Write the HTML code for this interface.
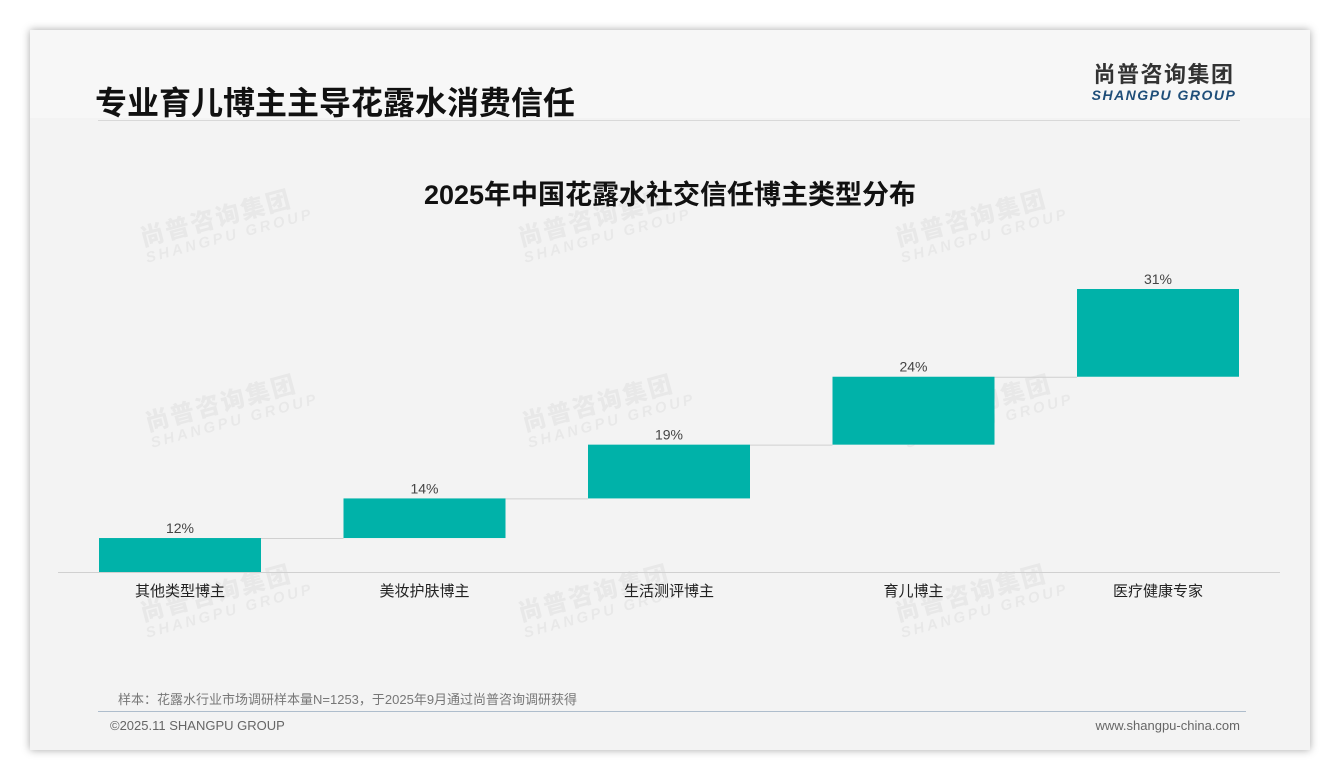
<!DOCTYPE html>
<html><head><meta charset="utf-8"><style>
body{margin:0;width:1340px;height:780px;background:#fff;font-family:"Liberation Sans","Noto Sans CJK SC",sans-serif;position:relative;overflow:hidden}
.card{position:absolute;left:30px;top:30px;width:1280px;height:720px;background:#f3f3f3;box-shadow:0 0 8px rgba(0,0,0,.35)}
.hdr{position:absolute;left:0;top:0;width:1280px;height:88px;background:#f7f7f7}
.wm{position:absolute;color:rgba(0,0,0,.045);font-weight:bold;transform:rotate(-15deg);line-height:1;white-space:nowrap}
.wm b{display:block;font-size:24px;letter-spacing:2px}.wm i{display:block;font-size:15px;font-style:italic;letter-spacing:3px}
</style></head><body>
<div class="card">
<div class="hdr"></div>
</div>
<div style="position:absolute;left:95px;top:78px;font-size:32px;font-weight:bold;color:#111">专业育儿博主主导花露水消费信任</div>
<div style="position:absolute;left:1086px;top:63px;width:156px;text-align:center">
<div style="font-size:22px;font-weight:bold;color:#333;letter-spacing:1.5px;line-height:24px">尚普咨询集团</div>
<div style="font-size:14px;font-weight:bold;font-style:italic;color:#1f4e79;letter-spacing:1.5px;line-height:16px">SHANGPU GROUP</div></div>
<div style="position:absolute;left:98px;top:120px;width:1142px;height:1px;background:#d8d8d8"></div>
<div style="position:absolute;left:0;width:1340px;top:173px;text-align:center;font-size:27px;font-weight:bold;color:#111">2025年中国花露水社交信任博主类型分布</div>
<div id="wms"></div>
<svg id="chart" width="1340" height="780" style="position:absolute;left:0;top:0"></svg>
<div style="position:absolute;left:118px;top:689px;font-size:13px;color:#777">样本：花露水行业市场调研样本量N=1253，于2025年9月通过尚普咨询调研获得</div>
<div style="position:absolute;left:98px;top:711px;width:1148px;height:1px;background:#aebdcc"></div>
<div style="position:absolute;left:110px;top:718px;font-size:13px;color:#666">©2025.11 SHANGPU GROUP</div>
<div style="position:absolute;right:100px;top:718px;font-size:13px;color:#666">www.shangpu-china.com</div>
<script>
const categories=["其他类型博主","美妆护肤博主","生活测评博主","育儿博主","医疗健康专家"];
const values=[12,14,19,24,31];
const labels=["12%","14%","19%","24%","31%"];
const NS="http://www.w3.org/2000/svg";
const svg=document.getElementById("chart");
const baseY=572,scale=2.83,x0=99,step=244.5,bw=162;
const y=v=>baseY-v*scale, x=i=>x0+i*step;
function mk(t,a){const e=document.createElementNS(NS,t);for(const k in a)e.setAttribute(k,a[k]);svg.appendChild(e);return e;}
const ax=mk("line",{x1:58,x2:1280,y1:baseY+0.5,y2:baseY+0.5,stroke:"#d0d0d0"});


let cum=0;
values.forEach((v,i)=>{
  const b=cum,t=cum+v;
  const r=mk("rect",{x:x(i),y:y(t),width:bw,height:y(b)-y(t),fill:"#00b2a9"});
  
  
  if(i<values.length-1){
    const c=mk("line",{x1:x(i)+bw,x2:x(i+1),y1:y(t)+0.5,y2:y(t)+0.5,stroke:"#d0d0d0"});
    
    
  }
  const l=mk("text",{x:x(i)+bw/2,y:y(t)-5,"text-anchor":"middle","font-size":14,fill:"#444"});
  l.textContent=labels[i];
  
  
  const c2=mk("text",{x:x(i)+bw/2,y:596,"text-anchor":"middle","font-size":15,fill:"#222"});
  c2.textContent=categories[i];
  
  
  cum=t;
});
const wpos=[[140,205],[518,205],[895,205],[145,390],[522,390],[900,390],[140,580],[518,580],[895,580]];
const w=document.getElementById("wms");
wpos.forEach(p=>{const d=document.createElement("div");d.className="wm";d.style.left=p[0]+"px";d.style.top=p[1]+"px";d.innerHTML="<b>尚普咨询集团</b><i>SHANGPU GROUP</i>";


w.appendChild(d);});
</script>
</body></html>
